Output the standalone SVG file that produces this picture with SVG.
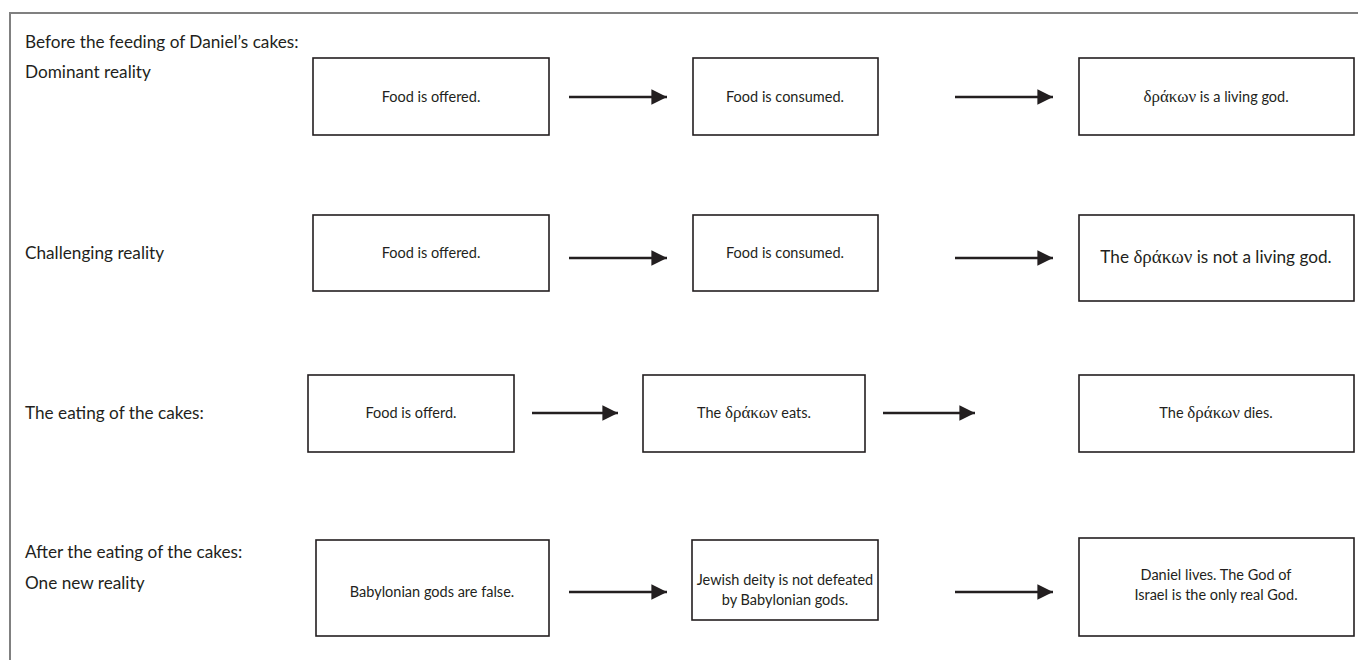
<svg xmlns="http://www.w3.org/2000/svg" width="1358" height="660" viewBox="0 0 1358 660">
<defs>
<marker id="ah" viewBox="0 0 10 10" refX="10" refY="5" markerWidth="6" markerHeight="6" markerUnits="strokeWidth" orient="auto">
<path d="M0,0 L10,5 L0,10 z" fill="#231f20"/>
</marker>
<style>
.bg{fill:#fff}
.frame{fill:none;stroke:#808080;stroke-width:2}
.box{fill:#fff;stroke:#231f20;stroke-width:1.6}
.t{font-family:"Lato","Open Sans","Liberation Sans",sans-serif;font-size:14.5px;fill:#231f20}
.lab{font-size:17.2px}
.big{font-size:17.2px}
.c{text-anchor:middle}
.gr{font-family:"Liberation Serif","DejaVu Serif",serif;font-size:17px}
.arr{stroke:#231f20;stroke-width:2.6;fill:none;marker-end:url(#ah)}
</style>
</defs>
<rect class="bg" x="0" y="0" width="1358" height="660"/>
<path class="frame" d="M10,660 L10,13 L1358,13"/>
<g id="labels">
<text class="t lab" x="25" y="48">Before the feeding of Daniel’s cakes:</text>
<text class="t lab" x="25" y="78">Dominant reality</text>
<text class="t lab" x="25" y="259">Challenging reality</text>
<text class="t lab" x="25" y="419">The eating of the cakes:</text>
<text class="t lab" x="25" y="558">After the eating of the cakes:</text>
<text class="t lab" x="25" y="589">One new reality</text>
</g>
<g id="r1b1"><rect class="box" x="313" y="58" width="236" height="77"/><text class="t c" x="431" y="102">Food is offered.</text></g>
<g id="r1b2"><rect class="box" x="693" y="58" width="185" height="77"/><text class="t c" x="785" y="102">Food is consumed.</text></g>
<g id="r1b3"><rect class="box" x="1079" y="58" width="275" height="77"/><text class="t c" x="1216" y="102"><tspan class="gr">δράκων</tspan> is a living god.</text></g>
<g id="r2b1"><rect class="box" x="313" y="215" width="236" height="76"/><text class="t c" x="431" y="258">Food is offered.</text></g>
<g id="r2b2"><rect class="box" x="693" y="215" width="185" height="76"/><text class="t c" x="785" y="258">Food is consumed.</text></g>
<g id="r2b3"><rect class="box" x="1079" y="215" width="275" height="86"/><text class="t c big" x="1216" y="263">The <tspan class="gr" style="font-size:19px">δράκων</tspan> is not a living god.</text></g>
<g id="r3b1"><rect class="box" x="308" y="375" width="206" height="77"/><text class="t c" x="411" y="418">Food is offerd.</text></g>
<g id="r3b2"><rect class="box" x="643" y="375" width="222" height="77"/><text class="t c" x="754" y="418">The <tspan class="gr">δράκων</tspan> eats.</text></g>
<g id="r3b3"><rect class="box" x="1079" y="375" width="275" height="77"/><text class="t c" x="1216" y="418">The <tspan class="gr">δράκων</tspan> dies.</text></g>
<g id="r4b1"><rect class="box" x="316" y="540" width="233" height="96"/><text class="t c" x="432" y="597">Babylonian gods are false.</text></g>
<g id="r4b2"><rect class="box" x="692" y="540" width="186" height="80"/><text class="t c" x="785" y="585">Jewish deity is not defeated</text><text class="t c" x="785" y="605">by Babylonian gods.</text></g>
<g id="r4b3"><rect class="box" x="1079" y="538" width="275" height="98"/><text class="t c" x="1216" y="580">Daniel lives. The God of</text><text class="t c" x="1216" y="600">Israel is the only real God.</text></g>
<g id="connectors">
<line class="arr" x1="569" y1="97" x2="667" y2="97"/>
<line class="arr" x1="955" y1="97" x2="1053" y2="97"/>
<line class="arr" x1="569" y1="258" x2="667" y2="258"/>
<line class="arr" x1="955" y1="258" x2="1053" y2="258"/>
<line class="arr" x1="532" y1="413" x2="618" y2="413"/>
<line class="arr" x1="883" y1="413" x2="975" y2="413"/>
<line class="arr" x1="569" y1="592" x2="667" y2="592"/>
<line class="arr" x1="955" y1="592" x2="1053" y2="592"/>
</g>
</svg>
